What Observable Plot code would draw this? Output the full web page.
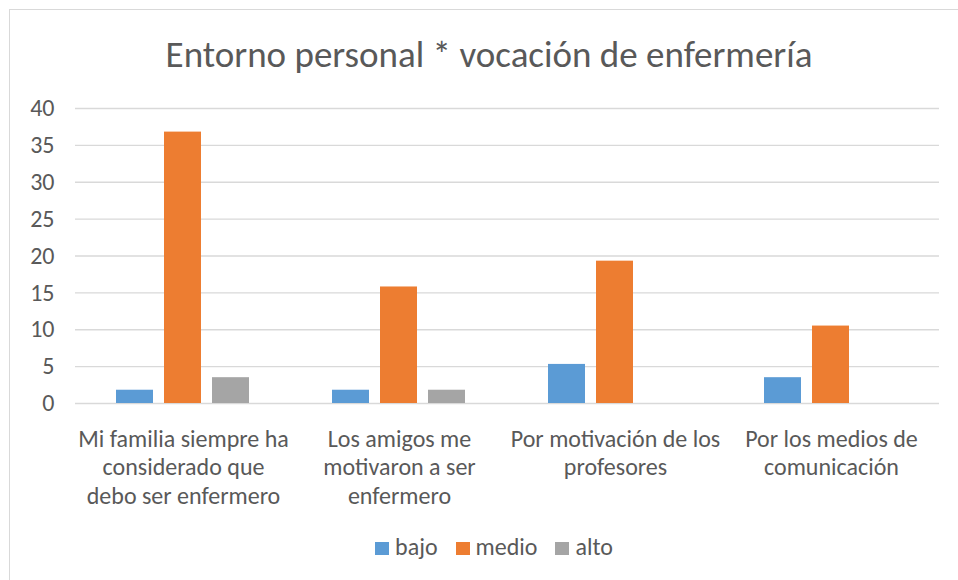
<!DOCTYPE html>
<html>
<head>
<meta charset="utf-8">
<script src="https://cdn.jsdelivr.net/npm/d3@7"></script>
<script src="https://cdn.jsdelivr.net/npm/@observablehq/plot@0.6"></script>
<style>
  html, body { margin: 0; padding: 0; background: #fff; }
  #wrap { position: relative; width: 958px; height: 580px; overflow: hidden; font-family: Calibri, Carlito, Lato, sans-serif; }
  #frame { position: absolute; left: 9px; top: 9px; width: 980px; height: 620px; border: 1.5px solid #d9d9d9; box-sizing: border-box; }
  #title { position: absolute; left: 9px; width: 960px; top: 33px; line-height: 44px; text-align: center; font-size: 37px; color: #595959; white-space: nowrap; }
  #chart { position: absolute; left: 0; top: 0; }
  #legend { position: absolute; left: 0; width: 988px; top: 533px; line-height: 28px; text-align: center; font-size: 24px; color: #595959; white-space: nowrap; }
  #legend span.item { margin: 0 9px; }
  #legend span.sw { display: inline-block; width: 14px; height: 13px; margin-right: 6px; vertical-align: 0px; }
</style>
</head>
<body>
<div id="wrap">
  <div id="frame"></div>
  <div id="chart"></div>
  <div id="title"></div>
  <div id="legend"></div>
</div>
<script>
const title = "Entorno personal * vocación de enfermería";
const categories = [
  "Mi familia siempre ha considerado que debo ser enfermero",
  "Los amigos me motivaron a ser enfermero",
  "Por motivación de los profesores",
  "Por los medios de comunicación"
];
const categoryLabels = [
  "Mi familia siempre ha\nconsiderado que\ndebo ser enfermero",
  "Los amigos me\nmotivaron a ser\nenfermero",
  "Por motivación de los\nprofesores",
  "Por los medios de\ncomunicación"
];
const series = ["bajo", "medio", "alto"];
const colors = ["#5B9BD5", "#ED7D31", "#A5A5A5"];
const bajo  = [1.8, 1.8, 5.3, 3.5];
const medio = [36.8, 15.8, 19.3, 10.5];
const alto  = [3.5, 1.8, 0, 0];
const yTicks = [0, 5, 10, 15, 20, 25, 30, 35, 40];

const valuesBySeries = {bajo, medio, alto};
const data = [];
categories.forEach((c, i) => {
  series.forEach(s => data.push({category: c, serie: s, value: valuesBySeries[s][i]}));
});
const labelOf = new Map(categories.map((c, i) => [c, categoryLabels[i]]));

const textColor = "#595959";
const chart = Plot.plot({
  width: 958,
  height: 525,
  marginLeft: 73,
  marginRight: 18,
  marginTop: 108,
  marginBottom: 122,
  style: {fontFamily: "Calibri, Carlito, Lato, sans-serif", background: "transparent"},
  fx: {domain: categories, padding: 0, label: null},
  x: {domain: series, paddingInner: 0.229, paddingOuter: 0.85, axis: null},
  y: {domain: [0, 40], label: null},
  color: {domain: series, range: colors},
  marks: [
    Plot.gridY(yTicks, {stroke: "#d9d9d9", strokeOpacity: 1, strokeWidth: 1.4}),
    Plot.barY(data, {fx: "category", x: "serie", y: "value", fill: "serie"}),
    Plot.axisY({ticks: yTicks, tickSize: 0, tickPadding: 21, fontSize: 24, color: textColor, label: null}),
    Plot.axisFx({anchor: "bottom", tickSize: 0, tickPadding: 23, fontSize: 24, color: textColor, lineHeight: 1.19, tickFormat: d => labelOf.get(d), label: null})
  ]
});
document.getElementById("chart").appendChild(chart);
document.getElementById("title").textContent = title;

const legend = document.getElementById("legend");
series.forEach((s, i) => {
  const item = document.createElement("span");
  item.className = "item";
  const sw = document.createElement("span");
  sw.className = "sw";
  sw.style.background = colors[i];
  item.appendChild(sw);
  item.appendChild(document.createTextNode(s));
  legend.appendChild(item);
});
</script>
</body>
</html>
